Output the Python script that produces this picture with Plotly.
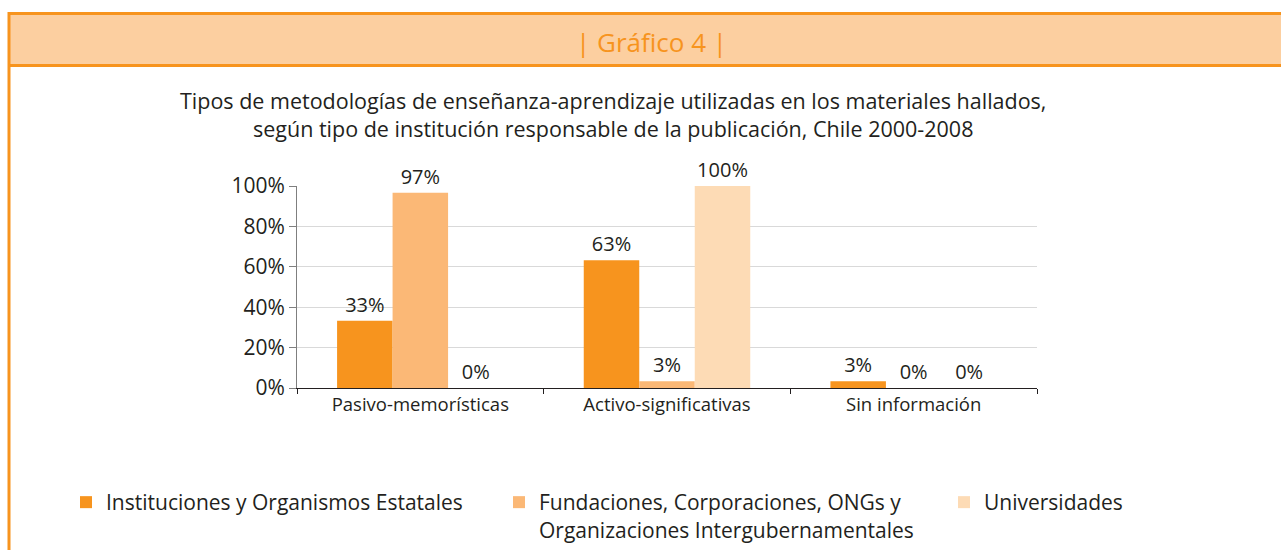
import plotly.graph_objects as go

categories = ["Pasivo-memorísticas", "Activo-significativas", "Sin información"]
series_names = [
    "Instituciones y Organismos Estatales",
    "Fundaciones, Corporaciones, ONGs y<br>Organizaciones Intergubernamentales",
    "Universidades",
]
estatales = [33.3, 63.3, 3.3]
fundaciones = [96.7, 3.3, 0.0]
universidades = [0.0, 100.0, 0.0]
y_ticks = [0, 20, 40, 60, 80, 100]
y_ticklabels = ["0%", "20%", "40%", "60%", "80%", "100%"]

title_text = ("Tipos de metodologías de enseñanza-aprendizaje utilizadas en los materiales hallados,<br>"
              "según tipo de institución responsable de la publicación, Chile 2000-2008")
header_text = "| Gráfico 4 |"

colors = ["#F7941E", "#FBB876", "#FDDBB5"]
FONT = "Open Sans"
DARK = "#231F20"

W, H = 1281, 550
L, R, T, B = 297, 1037, 186, 388


def px(x):
    return (x - L) / (R - L)


def py(y):
    return (B - y) / (B - T)


legend_ids = ["legend", "legend2", "legend3"]
legend_x = [66, 499, 944]

fig = go.Figure()
for name, vals, col, lg in zip(series_names, [estatales, fundaciones, universidades], colors, legend_ids):
    fig.add_trace(go.Bar(
        x=categories, y=vals, name=name, marker=dict(color=col, line=dict(width=0)),
        text=[f"{round(v)}%" for v in vals], textposition="outside",
        textfont=dict(family=FONT, size=20, color=DARK), cliponaxis=False, legend=lg,
    ))

shapes = [
    dict(type="rect", xref="paper", yref="paper", x0=px(9), x1=px(1290), y0=py(14), y1=py(66),
         fillcolor="#FCCFA0", line=dict(width=0), layer="below"),
    dict(type="line", xref="paper", yref="paper", x0=px(8), x1=px(1290), y0=py(13.5), y1=py(13.5),
         line=dict(color="#F7941E", width=3)),
    dict(type="line", xref="paper", yref="paper", x0=px(8), x1=px(1290), y0=py(65.5), y1=py(65.5),
         line=dict(color="#F7941E", width=3)),
    dict(type="line", xref="paper", yref="paper", x0=px(9), x1=px(9), y0=py(12), y1=py(560),
         line=dict(color="#F7941E", width=3)),
]

annotations = [
    dict(text=header_text, xref="paper", yref="paper", x=px(651), y=py(42), showarrow=False,
         xanchor="center", yanchor="middle", font=dict(family=FONT, size=26, color="#F7941E")),
    dict(text=title_text, xref="paper", yref="paper", x=px(613), y=py(115), showarrow=False,
         xanchor="center", yanchor="middle", align="center",
         font=dict(family=FONT, size=21.5, color=DARK)),
]

legend_common = dict(orientation="h", xanchor="left", yanchor="top", yref="container", xref="container",
                     valign="top", font=dict(family=FONT, size=21, color=DARK), itemwidth=30,
                     bgcolor="rgba(0,0,0,0)")
legends = {}
for lg, lx in zip(legend_ids, legend_x):
    legends[lg] = dict(legend_common, x=lx / W, y=1 - 482 / H)

fig.update_layout(
    width=W, height=H,
    margin=dict(l=L, r=W - R, t=T, b=H - B, pad=0),
    paper_bgcolor="white", plot_bgcolor="white",
    barmode="group", bargap=0.325, bargroupgap=0,
    font=dict(family=FONT, color=DARK, size=18),
    shapes=shapes, annotations=annotations,
    showlegend=True,
    **legends,
    xaxis=dict(showline=True, linecolor="#231F20", linewidth=1, ticks="outside", tickson="boundaries",
               ticklen=5, tickcolor="#231F20", tickfont=dict(family=FONT, size=18.5, color=DARK),
               showgrid=False, fixedrange=True),
    yaxis=dict(range=[0, 100], tickvals=y_ticks, ticktext=y_ticklabels, showline=True,
               linecolor="#7F7F7F", linewidth=1, ticks="outside", ticklen=7, tickcolor="#7F7F7F",
               showgrid=True, gridcolor="#D9D9D9", gridwidth=1, zeroline=False,
               tickfont=dict(family=FONT, size=21, color=DARK), fixedrange=True),
)

fig.write_html("out.html")
